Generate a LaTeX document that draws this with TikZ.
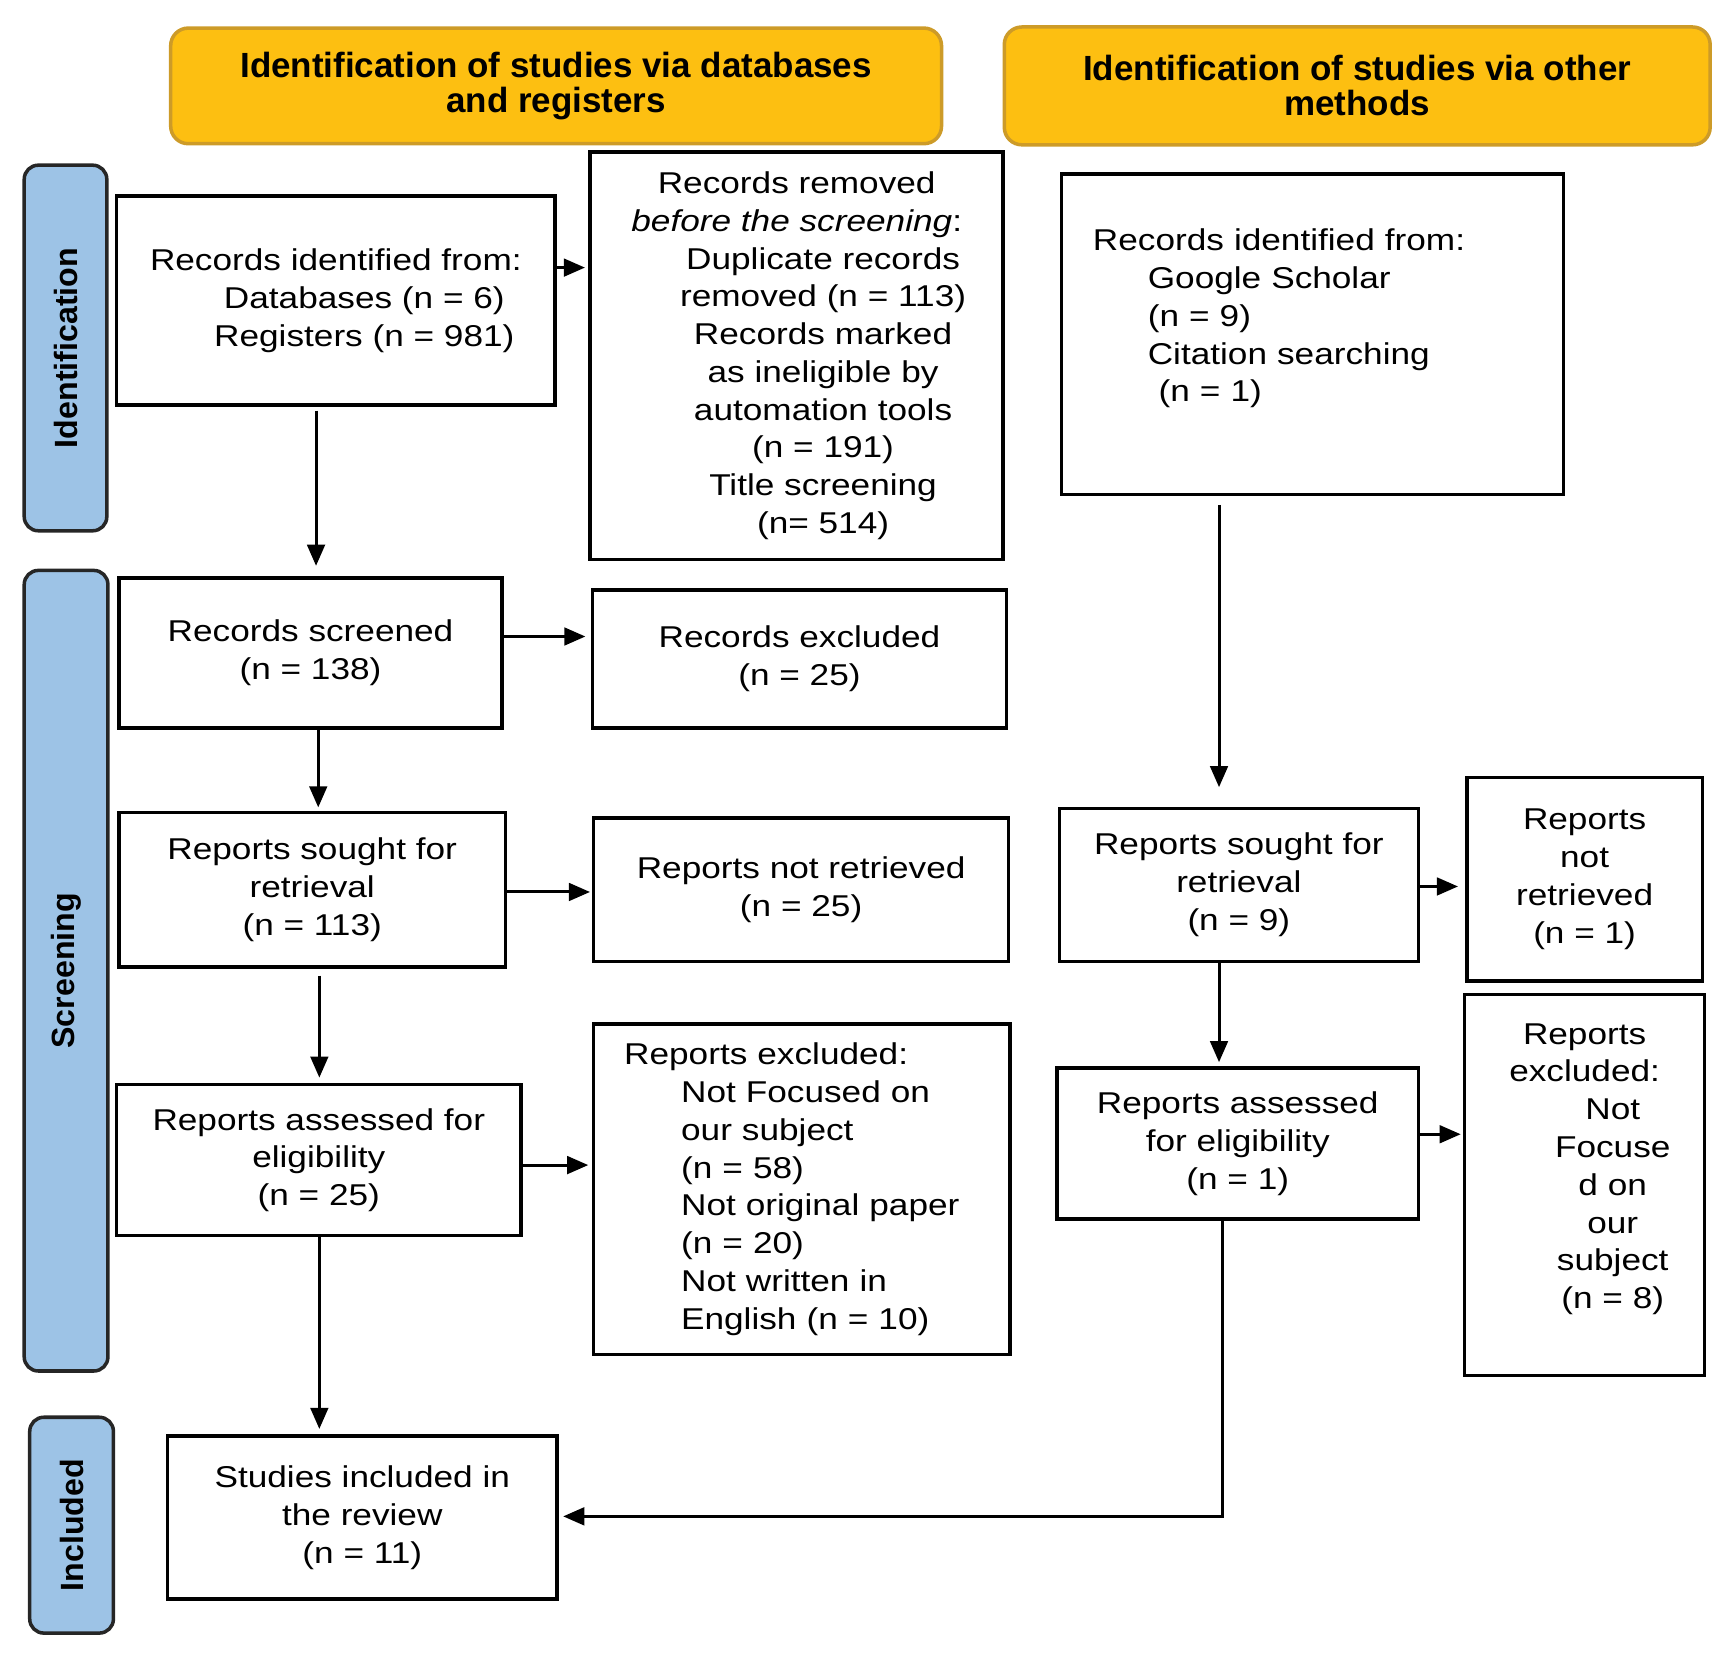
\documentclass[tikz,border=0pt]{standalone}
\usepackage{fontspec}
\setmainfont{Liberation Sans}
\newfontfamily\boxfont[FakeStretch=1.17]{Liberation Sans}
\usetikzlibrary{arrows.meta}

\definecolor{headyellow}{RGB}{253,191,17}
\definecolor{headedge}{RGB}{205,155,40}
\definecolor{barblue}{RGB}{157,195,230}

\tikzset{
  boxsize/.style 2 args={minimum width=#1*0.11012mm, minimum height=#2*0.11012mm},
  box/.style={draw, line width=1pt, inner sep=0pt, align=center,
    font=\boxfont\fontsize{8.56}{10.75}\selectfont},
  head/.style={draw=headedge, fill=headyellow, line width=1pt, rounded corners=5pt,
    inner sep=0pt, align=center, font=\bfseries\fontsize{9.95}{10}\selectfont},
  bar/.style={draw=black!85, fill=barblue, line width=1pt, rounded corners=4pt, inner sep=0pt},
  barlabel/.style={rotate=90, inner sep=0pt, font=\bfseries\fontsize{9.15}{9.15}\selectfont},
  arr/.style={line width=0.85pt, -{Triangle[length=6pt,width=5pt]}},
}

\begin{document}
\begin{tikzpicture}[x=0.11012mm, y=-0.11012mm]
		\useasboundingbox (0,0) rectangle (1568.3,1514.7);
		
		%%%%% HEADERS %%%%%
		\node[head, boxsize={700}{105}] (headDb) at (505,78) {Identification of studies via databases\\and registers};
		\node[head, boxsize={641}{107}] (headOther) at (1232.5,78) {Identification of studies via other\\methods};
		
		%%%%% PHASE BARS %%%%%
		\node[bar, boxsize={75}{332}] (barId) at (59.5,316) {};
		\node[barlabel] (labId) at (barId.center) {Identification};
		\node[bar, boxsize={76}{727}] (barScr) at (60,881.5) {};
		\node[barlabel] (labScr) at (barScr.center) {Screening};
		\node[bar, boxsize={76}{196}] (barInc) at (65,1385) {};
		\node[barlabel] (labInc) at (barInc.center) {Included};
		
		%%%%% DATABASES AND REGISTERS %%%%%
		\node[box, boxsize={398}{190}] (idDb) at (305,273) {Records identified from:\\\hspace*{16.2pt}Databases (n = 6)\\\hspace*{16.2pt}Registers (n = 981)};
		\node[box, boxsize={375}{370}] (removed) at (723.5,323) {Records removed\\\textit{before the screening}:\\\hspace*{15pt}Duplicate records\\\hspace*{15pt}removed (n = 113)\\\hspace*{15pt}Records marked\\\hspace*{15pt}as ineligible by\\\hspace*{15pt}automation tools\\\hspace*{15pt}(n = 191)\\\hspace*{15pt}Title screening\\\hspace*{15pt}(n= 514)};
		
		\node[box, boxsize={348}{136}] (screened) at (282,593) {Records screened\\(n = 138)};
		\node[box, boxsize={376}{125}] (excluded) at (726,598.5) {Records excluded\\(n = 25)};
		
		\node[box, boxsize={351}{140}] (sought) at (283.5,808) {Reports sought for\\retrieval\\(n = 113)};
		\node[box, boxsize={377}{130}] (notRetr) at (727.5,808) {Reports not retrieved\\(n = 25)};
		
		\node[box, boxsize={367}{137}] (assessed) at (289.5,1053.5) {Reports assessed for\\eligibility\\(n = 25)};
		\node[box, boxsize={378}{300}, text width=101pt, align=left] (repExcl) at (728,1080) {Reports excluded:\\\hspace*{16.2pt}Not Focused on\\\hspace*{16.2pt}our subject\\\hspace*{16.2pt}(n = 58)\\\hspace*{16.2pt}Not original paper\\\hspace*{16.2pt}(n = 20)\\\hspace*{16.2pt}Not written in\\\hspace*{16.2pt}English (n = 10)};
		
		\node[box, boxsize={354}{148}] (included) at (329,1378) {Studies included in\\the review\\(n = 11)};
		
		%%%%% OTHER METHODS %%%%%
		\node[box, boxsize={456}{291}, text width=125pt, align=left] (idOther) at (1192,303.5) {Records identified from:\\\hspace*{15.6pt}Google Scholar\\\hspace*{15.6pt}(n = 9)\\\hspace*{15.6pt}Citation searching\\\hspace*{18.7pt}(n = 1)\\\mbox{}};
		
		\node[box, boxsize={326}{139}] (soughtOther) at (1125,803.5) {Reports sought for\\retrieval\\(n = 9)};
		\node[box, boxsize={214}{185}] (notRetrOther) at (1439,798.5) {Reports\\not\\retrieved\\(n = 1)};
		
		\node[box, boxsize={328}{137}] (assessedOther) at (1124,1038.5) {Reports assessed\\for eligibility\\(n = 1)};
		\node[box, boxsize={218}{346}] (exclOther) at (1439,1076) {Reports\\excluded:\\\hspace*{16pt}Not\\\hspace*{16pt}Focuse\\\hspace*{16pt}d on\\\hspace*{16pt}our\\\hspace*{16pt}subject\\\hspace*{16pt}(n = 8)\\\mbox{}};
		
		%%%%% ARROWS %%%%%
		\draw[arr, shorten >=1pt] (idDb.east |- 0,243) -- (removed.west |- 0,243);
		\draw[arr, shorten <=1pt, shorten >=3pt] (idDb.south -| 287,0) -- (screened.north -| 287,0);
		\draw[arr, shorten >=1.5pt] (screened.east |- 0,578) -- (excluded.west |- 0,578);
		\draw[arr, shorten >=1pt] (screened.south -| 289,0) -- (sought.north -| 289,0);
		\draw[arr, shorten >=0.5pt] (sought.east |- 0,810) -- (notRetr.west |- 0,810);
		\draw[arr, shorten <=2pt, shorten >=1.5pt] (sought.south -| 290,0) -- (assessed.north -| 290,0);
		\draw[arr, shorten >=1pt] (assessed.east |- 0,1058) -- (repExcl.west |- 0,1058);
		\draw[arr, shorten >=1.5pt] (assessed.south -| 290,0) -- (included.north -| 290,0);
		
		\draw[arr, shorten <=2.5pt, shorten >=5.5pt] (idOther.south -| 1107,0) -- (soughtOther.north -| 1107,0);
		\draw[arr, shorten >=2pt] (soughtOther.east |- 0,805) -- (notRetrOther.west |- 0,805);
		\draw[arr, shorten >=1.2pt] (soughtOther.south -| 1107,0) -- (assessedOther.north -| 1107,0);
		\draw[arr, shorten >=0.6pt] (assessedOther.east |- 0,1030) -- (exclOther.west |- 0,1030);
		\draw[arr, shorten >=1.2pt] (assessedOther.south -| 1110,0) |- (included.east |- 0,1377);
		
	\end{tikzpicture}
\end{document}
